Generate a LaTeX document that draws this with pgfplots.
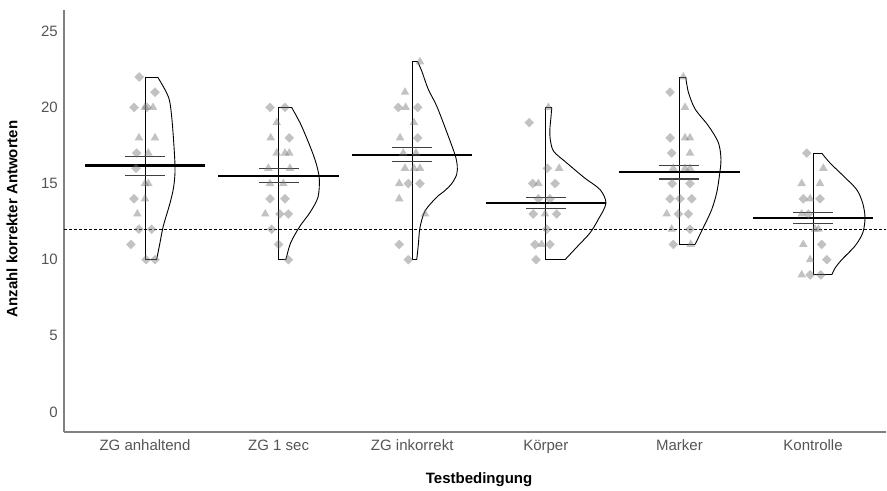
\documentclass[border=0pt]{standalone}
\usepackage{pgfplots}
\usepackage{pgfplotstable}
\pgfplotsset{compat=1.18}
\usepackage{fontspec}
\setmainfont{Liberation Sans}
\definecolor{axisgray}{RGB}{128,128,128}
\definecolor{ticktext}{RGB}{85,85,85}
\definecolor{ptgray}{RGB}{120,120,120}

% mean and standard error per condition
\pgfplotstableread{
x mean hi lo
1 16.18 16.80 15.55
2 15.50 15.97 15.09
3 16.90 17.35 16.43
4 13.70 14.06 13.34
5 15.77 16.18 15.30
6 12.74 13.10 12.40
}\stats

\begin{document}
\begin{tikzpicture}
\begin{axis}[
    scale only axis,
    width=822pt, height=422pt,
    xmin=0.394, xmax=6.546,
    ymin=-1.32, ymax=26.4,
    axis x line*=bottom, axis y line*=left,
    axis line style={axisgray, line width=1.2pt},
    major tick length=0pt,
    xtick={1,...,6},
    xticklabels={ZG anhaltend, ZG 1 sec, ZG inkorrekt, Körper, Marker, Kontrolle},
    ytick={0,5,...,25},
    /pgf/number format/assume math mode=true,
    tick label style={font=\fontsize{15}{18}\selectfont, text=ticktext},
    xticklabel style={anchor=base, inner sep=0pt, yshift=-18pt},
    yticklabel style={anchor=east, inner sep=0pt, xshift=-6pt},
    xlabel={Testbedingung},
    ylabel={Anzahl korrekter Antworten},
    label style={font=\bfseries\fontsize{15}{18}\selectfont},
    xlabel style={at={(axis description cs:0.505,-0.123)}, anchor=base},
    ylabel style={at={(axis description cs:-0.0633,0.505)}, anchor=center},
    pts/.style={only marks, mark options={draw opacity=0, fill=ptgray, fill opacity=0.45}},
    meanbar/.style={draw=none, mark=none, error bars/.cd, x dir=both, x fixed=#1, error mark=none},
]
% reference line
\addplot[black, line width=0.7pt, dash pattern=on 3pt off 2pt] coordinates {(0.394,12) (6.546,12)};

% ---- half violins: straight edges, then the density curve
\addplot[black, line width=0.9pt] coordinates {(1.087,10) (1,10) (1,22) (1.095,22)};
\addplot[black, line width=0.9pt, smooth] coordinates {(1.095,22) (1.16,21) (1.187,20.3) (1.207,18.7) (1.225,16.1) (1.215,14.8) (1.187,13.7) (1.137,12.2) (1.11,11) (1.087,10)};
\addplot[black, line width=0.9pt] coordinates {(2.055,10) (2,10) (2,20) (2.098,20)};
\addplot[black, line width=0.9pt, smooth] coordinates {(2.098,20) (2.16,19) (2.21,18) (2.255,17) (2.285,16.2) (2.305,15.3) (2.295,14.1) (2.235,13.1) (2.16,12.2) (2.09,11.1) (2.055,10)};
\addplot[black, line width=0.9pt] coordinates {(3.034,10) (3,10) (3,23) (3.041,23)};
\addplot[black, line width=0.9pt, smooth] coordinates {(3.041,23) (3.071,22.4) (3.12,21.2) (3.183,20.1) (3.258,18.4) (3.32,16.9) (3.337,16.2) (3.333,15.6) (3.296,15) (3.24,14.5) (3.183,14.1) (3.096,13.2) (3.058,12.1) (3.046,11) (3.034,10)};
\addplot[black, line width=0.9pt] coordinates {(4.144,10) (4,10) (4,20) (4.044,20)};
\addplot[black, line width=0.9pt, smooth] coordinates {(4.044,20) (4.04,19.5) (4.03,18.5) (4.035,17.8) (4.06,17.1) (4.156,16.36) (4.29,15.37) (4.406,14.6) (4.45,13.7) (4.39,12.6) (4.33,11.75) (4.24,10.9) (4.144,10)};
\addplot[black, line width=0.9pt] coordinates {(5.117,11) (5,11) (5,22) (5.047,22)};
\addplot[black, line width=0.9pt, smooth] coordinates {(5.047,22) (5.067,21) (5.117,19.9) (5.216,18.8) (5.291,17.7) (5.311,16.6) (5.299,15.5) (5.279,14.4) (5.242,13.3) (5.184,12.2) (5.117,11)};
\addplot[black, line width=0.9pt] coordinates {(6.14,9) (6,9) (6,17) (6.065,17)};
\addplot[black, line width=0.9pt, smooth] coordinates {(6.065,17) (6.127,16.35) (6.227,15.5) (6.327,14.6) (6.372,13.7) (6.389,12.74) (6.372,11.76) (6.314,10.9) (6.215,10) (6.165,9.45) (6.14,9)};

% ---- data points: diamonds and triangles
\addplot[pts, mark=square*, mark size=3.4pt, every mark/.append style={rotate=45}] coordinates {
(0.957,22) (1.075,21) (0.918,20) (1.015,20) (0.938,17) (0.933,16) (0.918,14) (0.955,12) (1.05,12) (0.895,11) (1.008,10) (1.075,10)
(1.936,20) (2.048,20) (2.08,18) (1.936,14) (2.048,14) (2.01,13) (2.073,13) (1.948,12) (2,11) (2.073,10)
(2.896,20) (3.041,20) (3.041,18) (2.971,15) (3.058,15) (2.903,11) (2.971,10)
(3.876,19) (4.011,16) (3.902,15) (4.069,15) (3.944,14) (4.031,14) (3.906,13) (4.081,13) (4.007,12) (3.919,11) (4.031,11) (3.927,10)
(4.93,21) (4.93,18) (4.942,17) (4.946,15) (5.079,15) (4.93,14) (5.004,14) (5.092,14) (4.992,13) (5.067,13) (5.079,12) (4.954,11)
(5.953,17) (5.927,14) (6.052,14) (5.965,13) (6.065,11) (6.103,10) (5.978,9) (6.058,9)
};
\addplot[pts, mark=triangle*, mark size=5pt] coordinates {
(1,20) (1.06,20) (0.955,18) (1.075,18) (1.025,17) (1,15) (1.025,15) (1,14) (0.943,13)
(1.986,19) (1.941,18) (1.986,17) (2.048,17) (2.08,17) (1.923,16) (2.085,16) (1.936,15) (2.035,15) (1.9,13)
(3.058,23) (2.946,21) (2.951,20) (3.013,19) (2.909,18) (2.933,17) (3.028,17) (2.946,16) (3.013,16) (3.058,16) (2.903,15) (2.903,14) (3.096,13)
(4.019,20) (4.1,16) (3.944,15) (3.994,13) (3.969,11)
(5.029,22) (5.042,20) (5.042,18) (5.079,18) (5.079,17) (4.954,16) (5.042,16) (5.079,16) (4.905,13) (4.942,12) (5.085,11)
(6.077,16) (5.915,15) (6.052,15) (5.978,14) (5.915,13) (6.015,12) (6.04,12) (5.927,11) (5.978,10) (5.915,9)
};

% ---- mean (long line) and +-1 SE (short lines)
\addplot[meanbar=0.45, error bar style={draw=black, line width=2.2pt}] table[x=x, y=mean] {\stats};
\addplot[meanbar=0.15, error bar style={draw=black!75, line width=1.2pt}] table[x=x, y=hi] {\stats};
\addplot[meanbar=0.15, error bar style={draw=black!75, line width=1.2pt}] table[x=x, y=lo] {\stats};
\end{axis}
\path[use as bounding box] ([xshift=-64pt,yshift=-54pt]current axis.south west) rectangle ([xshift=1pt,yshift=10pt]current axis.north east);
\end{tikzpicture}
\end{document}
